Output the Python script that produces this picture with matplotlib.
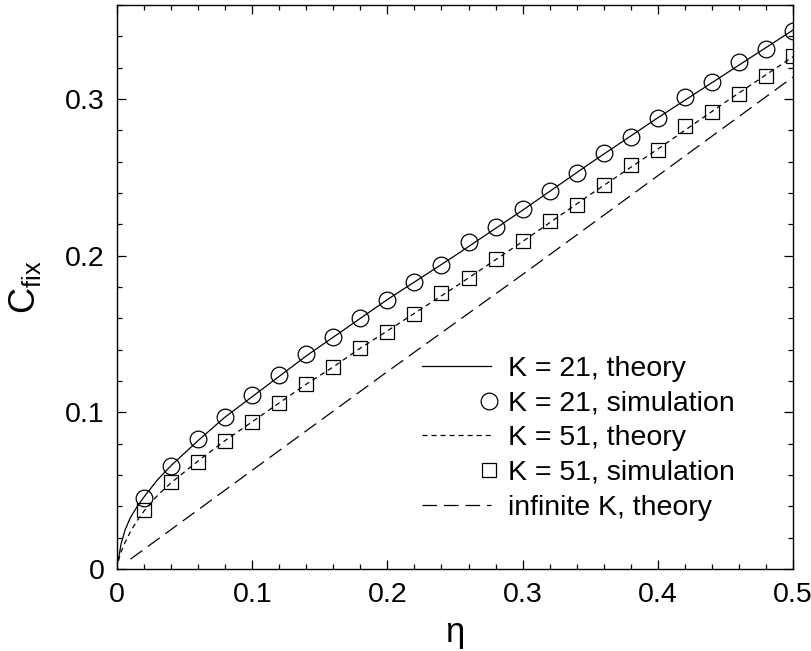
import numpy as np
import matplotlib
matplotlib.use("Agg")
import matplotlib.pyplot as plt
from matplotlib.ticker import MultipleLocator, FuncFormatter
from matplotlib.legend_handler import HandlerLine2D

# ---- data ----
eta_sim = [0.02, 0.04, 0.06, 0.08, 0.10, 0.12, 0.14, 0.16, 0.18, 0.20, 0.22, 0.24, 0.26,
           0.28, 0.30, 0.32, 0.34, 0.36, 0.38, 0.40, 0.42, 0.44, 0.46, 0.48, 0.50]
c_sim_k21 = [0.0455, 0.066, 0.083, 0.097, 0.111, 0.124, 0.137, 0.148, 0.160, 0.172, 0.1834,
             0.194, 0.2085, 0.218, 0.230, 0.241, 0.253, 0.2655, 0.276, 0.2877, 0.3015,
             0.311, 0.3236, 0.332, 0.3435]
c_sim_k51 = [0.0377, 0.0553, 0.0685, 0.082, 0.094, 0.106, 0.118, 0.129, 0.141, 0.151, 0.1626,
             0.176, 0.1855, 0.1979, 0.2096, 0.2223, 0.2323, 0.245, 0.258, 0.2674, 0.283,
             0.2917, 0.303, 0.315, 0.3274]

eta_th = [0.001, 0.003, 0.006, 0.01, 0.015, 0.02, 0.03, 0.04, 0.06, 0.08, 0.10, 0.12, 0.14,
          0.16, 0.18, 0.20, 0.25, 0.30, 0.35, 0.40, 0.45, 0.50]
c_th_k21 = [0.006, 0.016, 0.025, 0.033, 0.040, 0.046, 0.057, 0.066, 0.082, 0.097, 0.110,
            0.123, 0.136, 0.148, 0.160, 0.172, 0.200, 0.229, 0.259, 0.288, 0.316, 0.344]
c_th_k51 = [0.005, 0.011, 0.017, 0.024, 0.031, 0.037, 0.047, 0.055, 0.069, 0.082, 0.094,
            0.106, 0.118, 0.129, 0.141, 0.152, 0.180, 0.209, 0.239, 0.268, 0.298, 0.327]

eta_inf = [0.01, 0.10, 0.20, 0.30, 0.40, 0.50]
c_inf = [0.0063, 0.063, 0.126, 0.188, 0.251, 0.314]

labels = ["K = 21, theory", "K = 21, simulation", "K = 51, theory",
          "K = 51, simulation", "infinite K, theory"]

# ---- style ----
plt.rcParams['font.family'] = ['Liberation Sans', 'DejaVu Sans']
plt.rcParams['lines.scale_dashes'] = False
plt.rcParams['mathtext.fontset'] = 'custom'
plt.rcParams['mathtext.rm'] = 'Liberation Sans'

FS = 20.5

fig = plt.figure(figsize=(8.12, 6.51), dpi=100)
ax = fig.add_axes([117/812, (651-569)/651, (793-117)/812, (569-5)/651])

l1, = ax.plot(eta_th, c_th_k21, color='black', lw=0.9, ls='-')
l2, = ax.plot(eta_sim, c_sim_k21, ls='none', marker='o', ms=12, mfc='none',
              mec='black', mew=0.9)
l3, = ax.plot(eta_th, c_th_k51, color='black', lw=0.9, dashes=(3.6, 2.9))
l4, = ax.plot(eta_sim, c_sim_k51, ls='none', marker='s', ms=9.5, mfc='none',
              mec='black', mew=0.9)
l5, = ax.plot(eta_inf, c_inf, color='black', lw=0.9, dashes=(10.5, 5))

ax.set_xlim(0, 0.5)
ax.set_ylim(0, 0.36)
ax.xaxis.set_major_locator(MultipleLocator(0.1))
ax.xaxis.set_minor_locator(MultipleLocator(0.02))
ax.yaxis.set_major_locator(MultipleLocator(0.1))
ax.yaxis.set_minor_locator(MultipleLocator(0.02))
fmt = FuncFormatter(lambda v, p: "0" if abs(v) < 1e-9 else f"{v:g}")
ax.xaxis.set_major_formatter(fmt)
ax.yaxis.set_major_formatter(fmt)
ax.tick_params(which='both', direction='in', top=True, right=True, width=0.9,
               labelsize=FS)
ax.tick_params(which='major', length=6.5, pad=9)
ax.tick_params(which='minor', length=3.6)
for s in ax.spines.values():
    s.set_linewidth(1.0)

ax.set_xlabel("η", fontsize=25, labelpad=6)
ax.set_ylabel(r"$\mathregular{C_{fix}}$", fontsize=26, labelpad=16)


class RightMarker(HandlerLine2D):
    def get_xdata(self, legend, xdescent, ydescent, width, height, fontsize):
        x = -xdescent + width - 0.05 * fontsize
        return np.array([x - 1, x + 1]), np.array([x])


ax.legend([l1, l2, l3, l4, l5], labels, loc='upper left',
          bbox_to_anchor=(0.451, 0.377), frameon=False, fontsize=FS,
          handlelength=2.42, handletextpad=0.6, labelspacing=0.3,
          borderpad=0, borderaxespad=0, numpoints=1,
          handler_map={l2: RightMarker(), l4: RightMarker()})

fig.savefig("out.png", dpi=100)
